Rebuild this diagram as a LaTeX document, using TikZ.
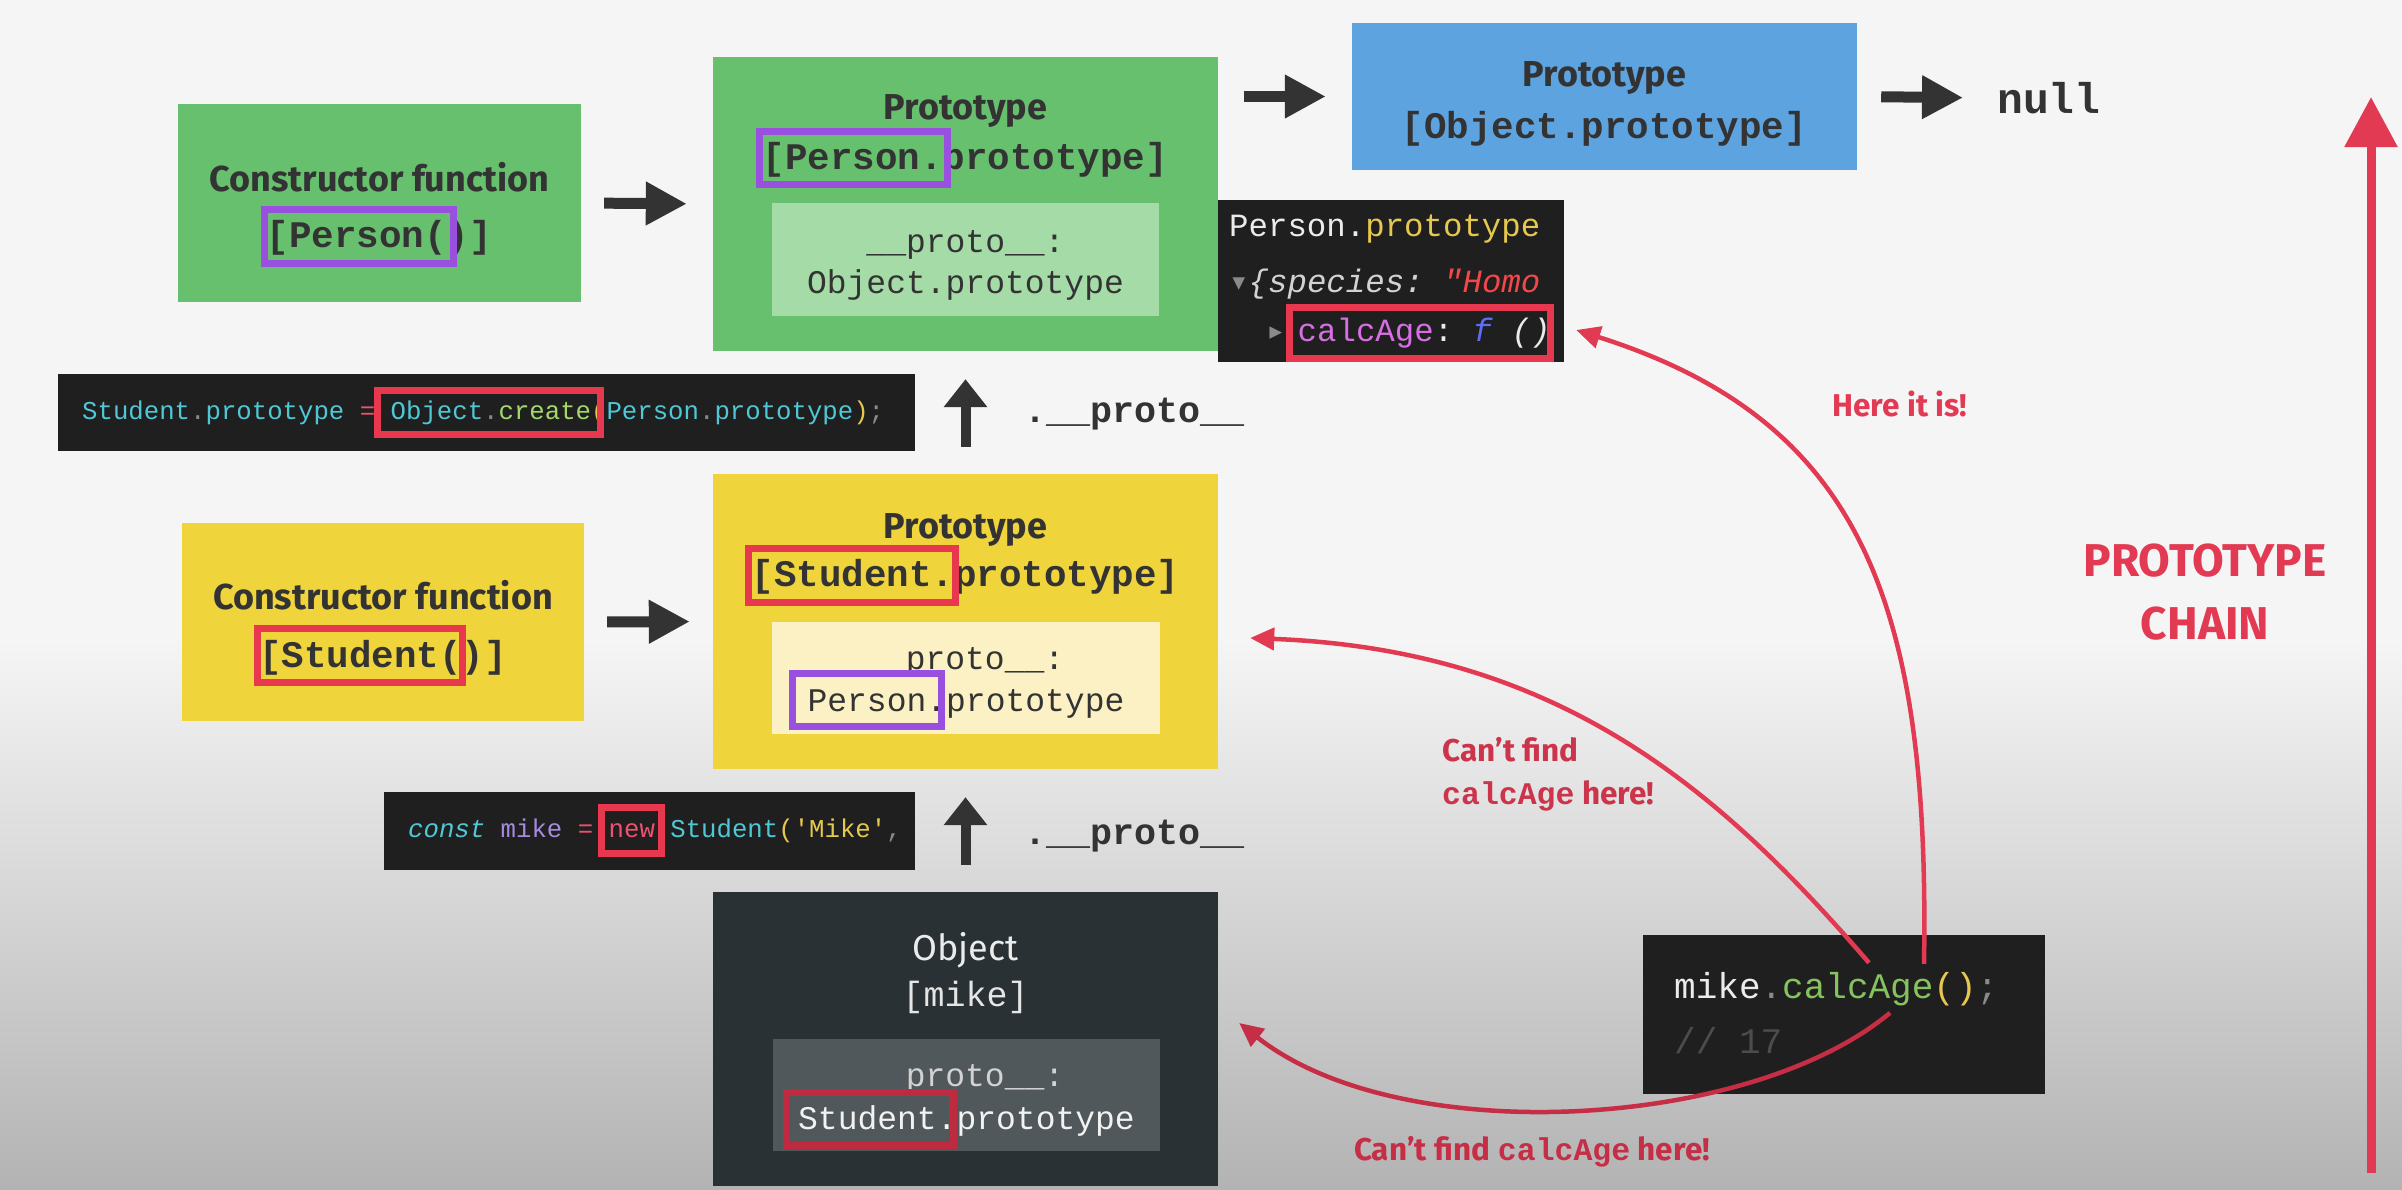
\documentclass[tikz,border=0pt]{standalone}
\usepackage{fontspec}
\setmainfont{Fira Sans}
\setmonofont{Liberation Mono}
\newfontfamily\glyphfont{DejaVu Sans Mono}
\usetikzlibrary{arrows.meta}

\definecolor{bgtop}{HTML}{F5F5F5}
\definecolor{bgbot}{HTML}{B3B3B3}
\definecolor{pgreen}{HTML}{66C06E}
\definecolor{pgreenlt}{HTML}{A4DBA7}
\definecolor{oblue}{HTML}{5DA3E0}
\definecolor{syellow}{HTML}{F0D43C}
\definecolor{syellowlt}{HTML}{FCF1C4}
\definecolor{mdark}{HTML}{293134}
\definecolor{mdarklt}{HTML}{50585B}
\definecolor{codebg}{HTML}{1F1F1F}
\definecolor{hlpurple}{HTML}{9950DE}
\definecolor{hlred}{HTML}{E8384F}
\definecolor{hlreddk}{HTML}{BE2A40}
\definecolor{chainred}{HTML}{E23A52}
\definecolor{chainreddk}{HTML}{C62E46}
\definecolor{inkdark}{HTML}{333333}
\definecolor{cdcyan}{HTML}{4FC8D6}
\definecolor{cdgreen}{HTML}{A3D86A}
\definecolor{cdmike}{HTML}{86C25E}
\definecolor{cdyellow}{HTML}{E6C84E}
\definecolor{cdgray}{HTML}{8A8A8A}
\definecolor{cdpink}{HTML}{F0506E}
\definecolor{cdpurple}{HTML}{A48BE0}
\definecolor{cdmagenta}{HTML}{D56FE2}
\definecolor{cdblue}{HTML}{5E6EF2}
\definecolor{cdstr}{HTML}{F2484B}
\definecolor{cdlight}{HTML}{D2D2D2}

\begin{document}
\begin{tikzpicture}[x=1pt,y=-1pt]
\tikzset{card/.style={inner sep=0pt, draw=none},
	headtxt/.style={inner sep=0pt, text=inkdark, font=\fontsize{36}{42}\selectfont\bfseries},
	monohead/.style={inner sep=0pt, text=inkdark, font=\ttfamily\bfseries\fontsize{37.5}{42}\selectfont},
	monoin/.style={inner sep=0pt, text=inkdark, font=\ttfamily\fontsize{33}{38}\selectfont},
	codetxt/.style={inner sep=0pt, font=\ttfamily\fontsize{25.7}{30}\selectfont},
	consotxt/.style={inner sep=0pt, text=white!92!black, font=\ttfamily\fontsize{32.4}{36}\selectfont},
	redtxt/.style={inner sep=0pt, text=chainred, font=\fontsize{31.5}{43}\selectfont\bfseries},
	hl/.style={draw=#1, line width=7pt, inner sep=0pt},
	fat/.style={draw=inkdark, line width=11pt, -{Triangle[width=41pt,length=41pt]}},
	upfat/.style={draw=inkdark, line width=10pt, -{Triangle[width=42pt,length=28pt]}},
	lookup/.style={draw=chainred, line width=4.5pt, -{Triangle[width=22pt,length=24pt]}}}
\useasboundingbox (0,0) rectangle (2402,1189);
\fill[bgtop] (0,0) rectangle (2402,640);
\shade[top color=bgtop, bottom color=bgbot] (0,640) rectangle (2402,1189);

% boxes
\node[card, fill=pgreen, minimum width=403pt, minimum height=198pt] (consP) at (379.5,203) {};
\node[card, fill=pgreen, minimum width=505pt, minimum height=294pt] (protoP) at (965.5,204) {};
\node[card, fill=pgreenlt, minimum width=387pt, minimum height=113pt] (protoPin) at (965.5,259.5) {};
\node[card, fill=oblue, minimum width=505pt, minimum height=147pt] (objP) at (1604.5,96.5) {};
\node[card, fill=codebg, minimum width=346pt, minimum height=162pt] (console) at (1391,281) {};
\node[card, fill=codebg, minimum width=857pt, minimum height=77pt] (codeCreate) at (486.5,412.5) {};
\node[card, fill=syellow, minimum width=402pt, minimum height=198pt] (consS) at (383,622) {};
\node[card, fill=syellow, minimum width=505pt, minimum height=295pt] (protoS) at (965.5,621.5) {};
\node[card, fill=syellowlt, minimum width=388pt, minimum height=112pt] (protoSin) at (966,678) {};
\node[card, fill=codebg, minimum width=531pt, minimum height=78pt] (codeNew) at (649.5,831) {};
\node[card, fill=mdark, minimum width=505pt, minimum height=294pt] (objM) at (965.5,1039) {};
\node[card, fill=mdarklt, minimum width=387pt, minimum height=112pt] (objMin) at (966.5,1095) {};
\node[card, fill=codebg, minimum width=402pt, minimum height=159pt] (mikeCode) at (1844,1014.5) {};

% texts
\node[headtxt] (consPhead) at (379.5,177) {Constructor function};
\node[monohead] (consPname) at (379.5,238) {[Person()]};
\node[headtxt] (protoPhead) at (965.5,111) {Prototype};
\node[monohead] (protoPname) at (965.5,160) {[Person.prototype]};
\node[monoin] (protoPkey) at (965.5,245) {\_\_proto\_\_:};
\node[monoin] (protoPval) at (965.5,285) {Object.prototype};
\node[headtxt] (objPhead) at (1604.5,78) {Prototype};
\node[monohead] (objPname) at (1604.5,129) {[Object.prototype]};
\node[monohead, anchor=west, font=\ttfamily\bfseries\fontsize{43}{48}\selectfont] (nullTxt) at (1997,98) {null};
\node[consotxt, anchor=west] (conLine1) at (1229,229) {Person.\textcolor{cdyellow}{prototype}};
\node[consotxt, anchor=west] (conLine2) at (1229,284) {{\glyphfont\textcolor{cdgray}{▾}}\textit{\textcolor{cdlight}{\{species: }\textcolor{cdstr}{"Homo}}};
\node[consotxt, anchor=west] (conLine3) at (1266,333) {{\glyphfont\textcolor{cdgray}{▸}}\hspace{12pt}\textcolor{cdmagenta}{calcAge}: \textit{\textcolor{cdblue}{f} ()}};
\node[codetxt, anchor=west] (createTxt) at (82,413) {\textcolor{cdcyan}{Student}\textcolor{cdgray}{.}\textcolor{cdcyan}{prototype} \textcolor{cdpink}{=} \textcolor{cdcyan}{Object}\textcolor{cdgray}{.}\textcolor{cdgreen}{create}\textcolor{cdyellow}{(}\textcolor{cdcyan}{Person}\textcolor{cdgray}{.}\textcolor{cdcyan}{prototype}\textcolor{cdyellow}{)}\textcolor{cdgray}{;}};
\node[monohead, anchor=west, font=\ttfamily\bfseries\fontsize{36.7}{40}\selectfont] (protoUp1) at (1024,414) {.\_\_proto\_\_};
\node[headtxt] (consShead) at (383,595) {Constructor function};
\node[monohead] (consSname) at (383,658) {[Student()]};
\node[headtxt] (protoShead) at (965.5,530) {Prototype};
\node[monohead] (protoSname) at (965.5,577) {[Student.prototype]};
\node[monoin] (protoSkey) at (985,662) {proto\_\_:};
\node[monoin] (protoSval) at (966,704) {Person.prototype};
\node[codetxt, anchor=west] (newTxt) at (408,831) {\textit{\textcolor{cdcyan}{const}} \textcolor{cdpurple}{mike} \textcolor{cdpink}{=} \textcolor{cdpink}{new} \textcolor{cdcyan}{Student}\textcolor{cdyellow}{(}\textcolor{cdyellow}{'Mike'}\textcolor{cdgray}{,}};
\node[monohead, anchor=west, font=\ttfamily\bfseries\fontsize{36.7}{40}\selectfont] (protoUp2) at (1024,836) {.\_\_proto\_\_};
\node[headtxt, text=white!92!black, font=\fontsize{36}{42}\selectfont] (objMhead) at (965.5,950) {Object};
\node[monoin, text=white!90!black, font=\ttfamily\fontsize{35}{40}\selectfont] (objMname) at (965.5,997) {[mike]};
\node[monoin, text=cdlight] (objMkey) at (985,1079) {proto\_\_:};
\node[monoin, text=white!95!black] (objMval) at (966.5,1121) {Student.prototype};
\node[consotxt, anchor=west, font=\ttfamily\fontsize{36}{40}\selectfont] (mikeCall) at (1674,989) {mike\textcolor{cdgray}{.}\textcolor{cdmike}{calcAge}\textcolor{cdyellow}{()}\textcolor{cdgray}{;}};
\node[consotxt, anchor=west, text=black!70!white, font=\ttfamily\fontsize{36}{40}\selectfont] (mikeNote) at (1674,1041) {// 17};

% highlights
\node[hl=hlpurple, minimum width=189pt, minimum height=54pt] (hlPersonFn) at (359,236.5) {};
\node[hl=hlpurple, minimum width=188pt, minimum height=53pt] (hlPersonProto) at (853.5,158) {};
\node[hl=hlred, minimum width=261pt, minimum height=51pt] (hlCalc) at (1420,333) {};
\node[hl=hlred, minimum width=223pt, minimum height=44pt] (hlCreate) at (489,412.5) {};
\node[hl=hlred, minimum width=205pt, minimum height=54pt] (hlStudentFn) at (360,655.5) {};
\node[hl=hlred, minimum width=207pt, minimum height=54pt] (hlStudentProto) at (852,575.5) {};
\node[hl=hlpurple, minimum width=149pt, minimum height=53pt] (hlPersonIn) at (867,700) {};
\node[hl=hlred, minimum width=60pt, minimum height=46pt] (hlNew) at (631.5,830.5) {};
\node[hl=hlreddk, minimum width=167pt, minimum height=53pt] (hlStudentIn) at (870,1119) {};

% chain arrows
\draw[fat, shorten <=23pt, shorten >=26pt] (consP.east) -- (protoP.west);
\draw[fat, shorten <=26pt, shorten >=26pt] (protoP.east |- objP.west) -- (objP.west);
\draw[fat, shorten <=24pt, shorten >=34pt] (objP.east) -- (nullTxt.west);
\draw[fat, shorten <=23pt, shorten >=23pt] (consS.east) -- (protoS.west);
\draw[upfat, shorten <=27pt, shorten >=28pt] (protoS.north) -- (protoP.south);
\draw[upfat, shorten <=27pt, shorten >=28pt] (objM.north) -- (protoS.south);

% lookups
\coordinate (askA) at ([shift={(80,29)}]mikeCode.north);
\coordinate (askB) at ([shift={(25,28)}]mikeCode.north);
\coordinate (askC) at ([shift={(46,78)}]mikeCode.north);
\coordinate (foundTip) at ([shift={(12,49)}]console.east);
\coordinate (missS) at ([shift={(32,16.5)}]protoS.east);
\coordinate (missM) at ([shift={(21,-16)}]objM.east);
\draw[lookup] (askA) .. controls (1930,600) and (1860,420) .. (foundTip);
\draw[lookup] (askB) .. controls (1720,790) and (1560,650) .. (missS);
\draw[lookup, draw=chainreddk] (askC) .. controls (1750,1130) and (1400,1150) .. (missM);
\node[redtxt] (foundLbl) at (1900,404) {Here it is!};
\node[redtxt, anchor=west, align=left, text=chainred!90!black] (missSLbl) at (1442,774) {Can’t find\\{\ttfamily calcAge} here!};
\node[redtxt, text=chainreddk] (missMLbl) at (1532,1152) {Can’t find {\ttfamily calcAge} here!};

% chain
\coordinate (chainFoot) at (2371,1173);
\coordinate (chainHead) at (2371,97);
\draw[draw=chainred, line width=9pt, -{Triangle[width=51pt,length=50pt]}] (chainFoot) -- (chainHead);
\node[redtxt, align=center, font=\fontsize{46}{63}\selectfont\bfseries] (chainLbl) at (2205,592) {PROTOTYPE\\CHAIN};
\end{tikzpicture}
\end{document}
